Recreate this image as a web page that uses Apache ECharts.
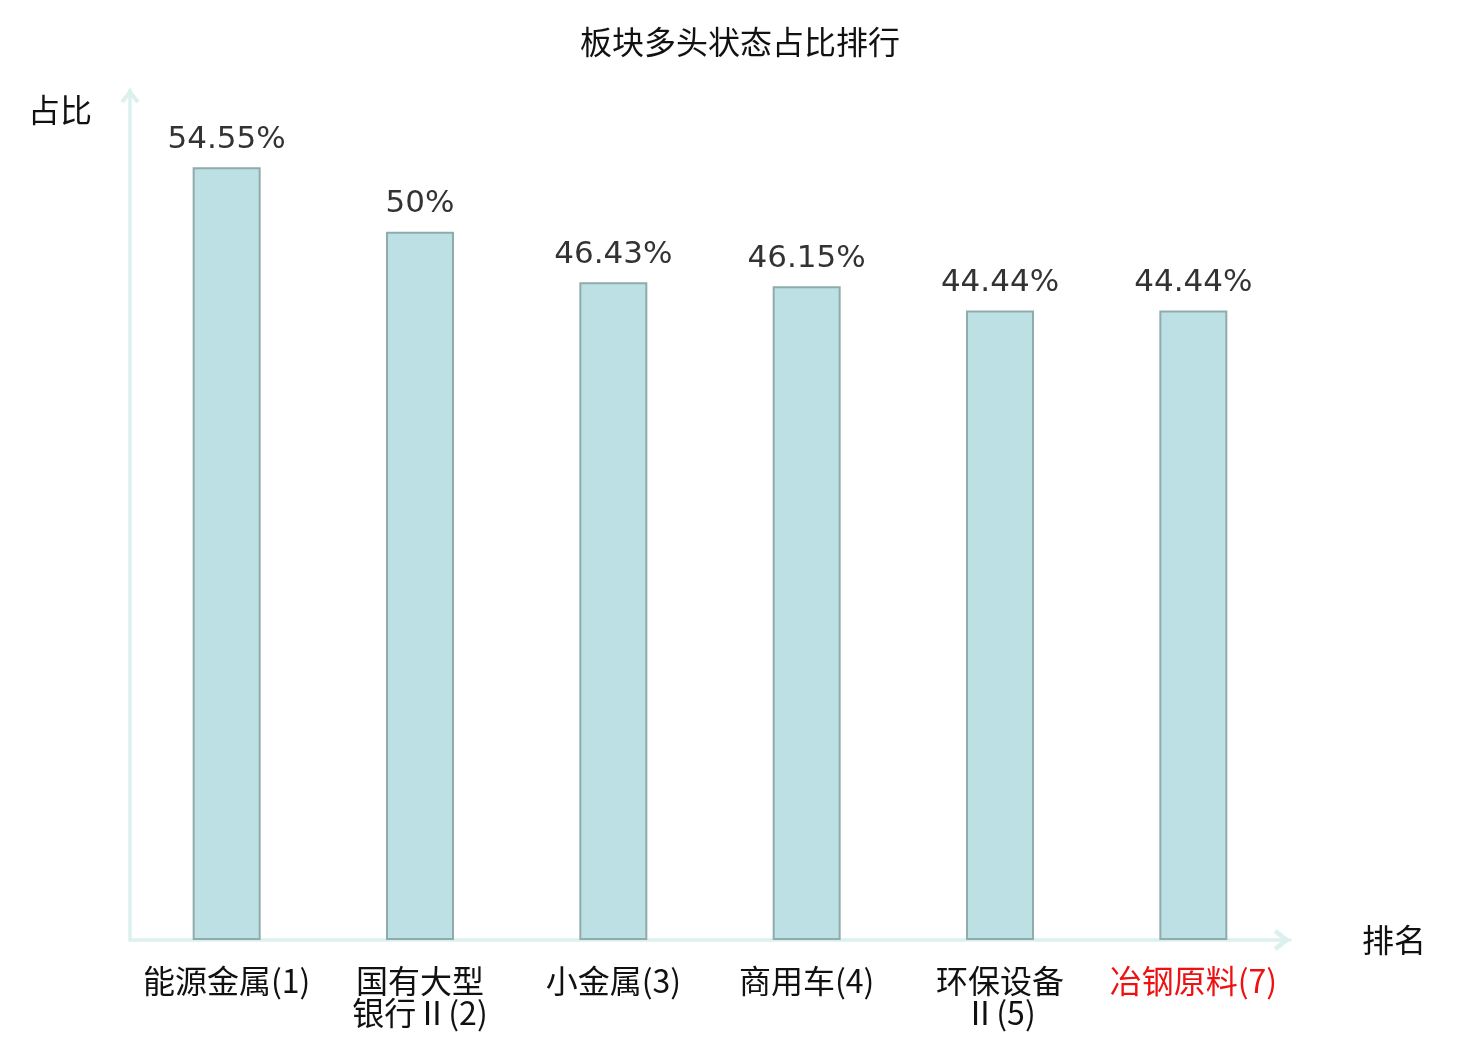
<!DOCTYPE html>
<html lang="zh">
<head>
    <meta charset="utf-8"/>
    <title>板块多头状态占比排行</title>
    <script src="https://cdn.jsdelivr.net/npm/echarts@6/dist/echarts.min.js"></script>
    <style>
        html, body { margin: 0; padding: 0; background: #fff; }
        #main { width: 1480px; height: 1040px; }
    </style>
</head>
<body>
<div id="main"></div>
<script>
    // 板块名称（含排名）
    const categories = ['能源金属(1)', '国有大型\n银行Ⅱ(2)', '小金属(3)', '商用车(4)', '环保设备\nⅡ(5)', '冶钢原料(7)'];
    // 多头状态占比 %
    const ratios = [54.55, 50, 46.43, 46.15, 44.44, 44.44];
    // 需要标红的板块
    const highlight = ['冶钢原料(7)'];

    // 空心箭头（朝上，由 echarts 自动旋转）
    const chevron = 'path://M10,0 L20,12.5 L16.6,15.2 L10,7 L3.4,15.2 L0,12.5 Z';
    const cjk = 'Noto Sans CJK SC';

    const chart = echarts.init(document.getElementById('main'));
    const option = {
        animation: false,
        title: {
            text: '板块多头状态占比排行',
            left: 'center',
            top: 21,
            textStyle: {
                fontSize: 32,
                fontWeight: 'normal',
                color: '#111',
                fontFamily: cjk
            }
        },
        grid: { left: 130, right: 190, top: 90, bottom: 100 },
        xAxis: {
            type: 'category',
            data: categories.map(function (c) {
                return highlight.indexOf(c) >= 0 ? { value: c, textStyle: { color: '#ee1111' } } : c;
            }),
            name: '排名',
            nameGap: 72,
            nameTextStyle: { fontSize: 32, color: '#111', fontFamily: cjk },
            axisLine: {
                lineStyle: { color: '#dcf1ee', width: 3.5 },
                symbol: ['none', chevron],
                symbolSize: [22, 18],
                symbolOffset: [0, -8]
            },
            axisTick: { show: false },
            axisLabel: {
                interval: 0,
                margin: 25,
                fontSize: 32,
                lineHeight: 32,
                color: '#111',
                fontFamily: cjk
            }
        },
        yAxis: {
            type: 'value',
            min: 0,
            max: 60,
            name: '占比',
            nameLocation: 'end',
            nameGap: -20,
            nameTextStyle: {
                fontSize: 32,
                color: '#111',
                fontFamily: cjk,
                align: 'right',
                verticalAlign: 'middle',
                padding: [0, 38, 0, 0]
            },
            axisLine: {
                show: true,
                lineStyle: { color: '#dcf1ee', width: 3.5 },
                symbol: ['none', chevron],
                symbolSize: [19, 18],
                symbolOffset: [0, -6]
            },
            axisTick: { show: false },
            axisLabel: { show: false },
            splitLine: { show: false }
        },
        series: [{
            type: 'bar',
            data: ratios,
            barWidth: 68,
            itemStyle: {
                color: '#bce0e3',
                borderColor: '#8fabab',
                borderWidth: 2
            },
            label: {
                show: true,
                position: 'top',
                distance: 12,
                fontSize: 31,
                color: '#333',
                fontFamily: 'DejaVu Sans',
                formatter: '{c}%'
            }
        }]
    };
    chart.setOption(option);
</script>
</body>
</html>
